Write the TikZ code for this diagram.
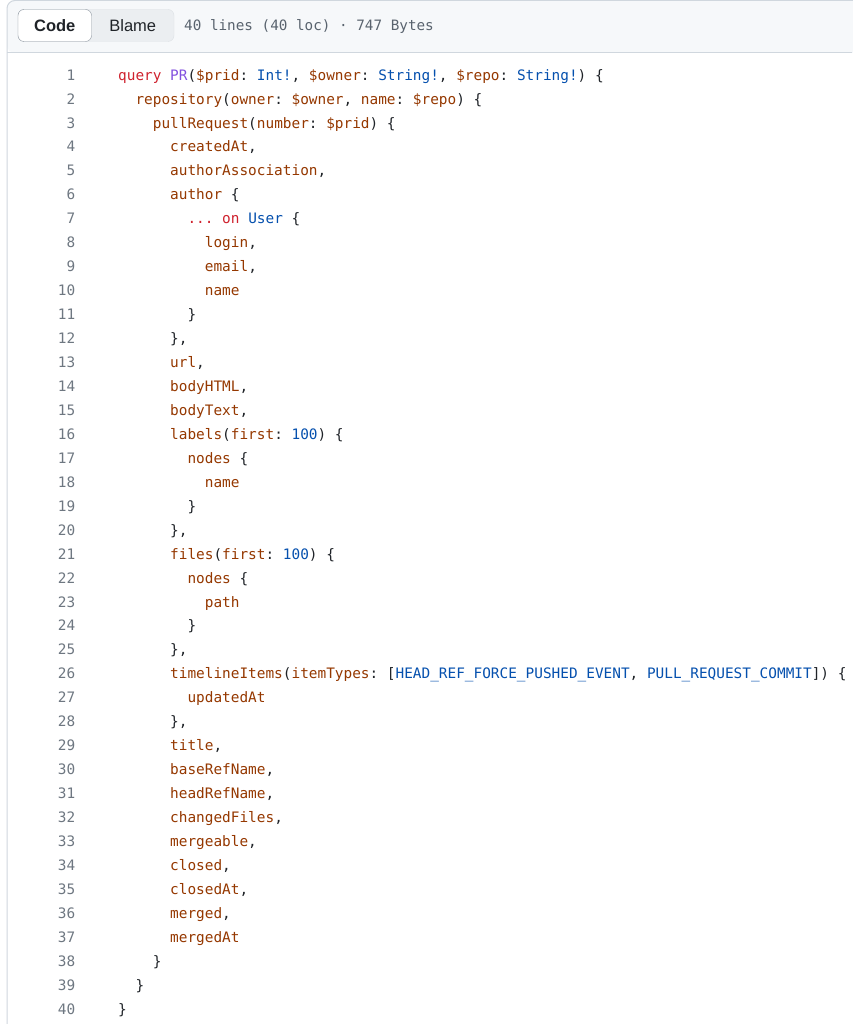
\documentclass[tikz,border=0pt]{standalone}
\usepackage{xcolor}
\usepackage{tikz}
\usepackage{fontspec}
\setmainfont{Liberation Sans}
\setsansfont{Liberation Sans}
\setmonofont{DejaVu Sans Mono}

\definecolor{ghkw}{HTML}{CF222E}
\definecolor{ghfn}{HTML}{8250DF}
\definecolor{ghfd}{HTML}{953800}
\definecolor{ghty}{HTML}{0550AE}
\definecolor{ghtext}{HTML}{1F2328}
\definecolor{ghnum}{HTML}{6E7781}
\definecolor{ghmeta}{HTML}{59636E}
\definecolor{ghhead}{HTML}{F6F8FA}
\definecolor{ghline}{HTML}{D0D7DE}
\definecolor{ghseg}{HTML}{EBEEF1}
\definecolor{ghsegline}{HTML}{DDE1E5}
\definecolor{ghbtn}{HTML}{8C959F}

\newcommand{\gkw}[1]{\textcolor{ghkw}{#1}}
\newcommand{\gfn}[1]{\textcolor{ghfn}{#1}}
\newcommand{\gfd}[1]{\textcolor{ghfd}{#1}}
\newcommand{\gty}[1]{\textcolor{ghty}{#1}}
\newcommand{\codeline}[3]{\node[code] (c#1) at ({118+8.67*#2},{77.5+23.95*(#1-1)}) {#3};}

\begin{document}
\begin{tikzpicture}[x=1pt,y=-1pt,
    code/.style={anchor=mid west,inner sep=0pt,text=ghtext,font=\ttfamily\fontsize{14.4}{17}\selectfont},
    lnum/.style={anchor=mid east,inner sep=0pt,text=ghnum,font=\ttfamily\fontsize{14.4}{17}\selectfont},
    tab/.style={inner sep=0pt,text=ghtext,font=\sffamily\fontsize{16.5}{20}\selectfont}]
  \useasboundingbox[fill=white] (0,0) rectangle (852,1024);
  % header bar
  \fill[ghhead,rounded corners=8pt] (7,53) -- (7,0.5) -- (860,0.5) -- (860,53) -- cycle;
  \draw[ghline,line width=1pt,rounded corners=8pt] (7,1030) -- (7,0.5) -- (860,0.5);
  \draw[ghline,line width=1pt] (7,53) -- (852,53);
  % code / blame switch
  \draw[ghsegline,fill=ghseg,rounded corners=6pt] (18,9.5) rectangle (174,41.5);
  \draw[ghbtn,fill=white,rounded corners=6pt] (18,9.5) rectangle (91.5,41.5);
  \node[tab,font=\sffamily\bfseries\fontsize{16.5}{20}\selectfont] (code) at (54.75,26) {Code};
  \node[tab] (blame) at (132.75,26) {Blame};
  \node[code,font=\ttfamily\fontsize{14.3}{17}\selectfont,text=ghmeta] (meta) at (184,28) {40 lines (40 loc) · 747 Bytes};
  % line numbers
  \foreach \i in {1,...,40}
    \node[lnum] (n\i) at (75.5,{77.5+23.95*(\i-1)}) {\i};
  % code
  \codeline{1}{0}{\gkw{query} \gfn{PR}(\gfd{\$prid}: \gty{Int!}, \gfd{\$owner}: \gty{String!}, \gfd{\$repo}: \gty{String!}) \{}
  \codeline{2}{2}{\gfd{repository}(\gfd{owner}: \gfd{\$owner}, \gfd{name}: \gfd{\$repo}) \{}
  \codeline{3}{4}{\gfd{pullRequest}(\gfd{number}: \gfd{\$prid}) \{}
  \codeline{4}{6}{\gfd{createdAt},}
  \codeline{5}{6}{\gfd{authorAssociation},}
  \codeline{6}{6}{\gfd{author} \{}
  \codeline{7}{8}{\gkw{...} \gkw{on} \gty{User} \{}
  \codeline{8}{10}{\gfd{login},}
  \codeline{9}{10}{\gfd{email},}
  \codeline{10}{10}{\gfd{name}}
  \codeline{11}{8}{\}}
  \codeline{12}{6}{\},}
  \codeline{13}{6}{\gfd{url},}
  \codeline{14}{6}{\gfd{bodyHTML},}
  \codeline{15}{6}{\gfd{bodyText},}
  \codeline{16}{6}{\gfd{labels}(\gfd{first}: \gty{100}) \{}
  \codeline{17}{8}{\gfd{nodes} \{}
  \codeline{18}{10}{\gfd{name}}
  \codeline{19}{8}{\}}
  \codeline{20}{6}{\},}
  \codeline{21}{6}{\gfd{files}(\gfd{first}: \gty{100}) \{}
  \codeline{22}{8}{\gfd{nodes} \{}
  \codeline{23}{10}{\gfd{path}}
  \codeline{24}{8}{\}}
  \codeline{25}{6}{\},}
  \codeline{26}{6}{\gfd{timelineItems}(\gfd{itemTypes}: [\gty{HEAD\_REF\_FORCE\_PUSHED\_EVENT}, \gty{PULL\_REQUEST\_COMMIT}]) \{}
  \codeline{27}{8}{\gfd{updatedAt}}
  \codeline{28}{6}{\},}
  \codeline{29}{6}{\gfd{title},}
  \codeline{30}{6}{\gfd{baseRefName},}
  \codeline{31}{6}{\gfd{headRefName},}
  \codeline{32}{6}{\gfd{changedFiles},}
  \codeline{33}{6}{\gfd{mergeable},}
  \codeline{34}{6}{\gfd{closed},}
  \codeline{35}{6}{\gfd{closedAt},}
  \codeline{36}{6}{\gfd{merged},}
  \codeline{37}{6}{\gfd{mergedAt}}
  \codeline{38}{4}{\}}
  \codeline{39}{2}{\}}
  \codeline{40}{0}{\}}
\end{tikzpicture}
\end{document}
